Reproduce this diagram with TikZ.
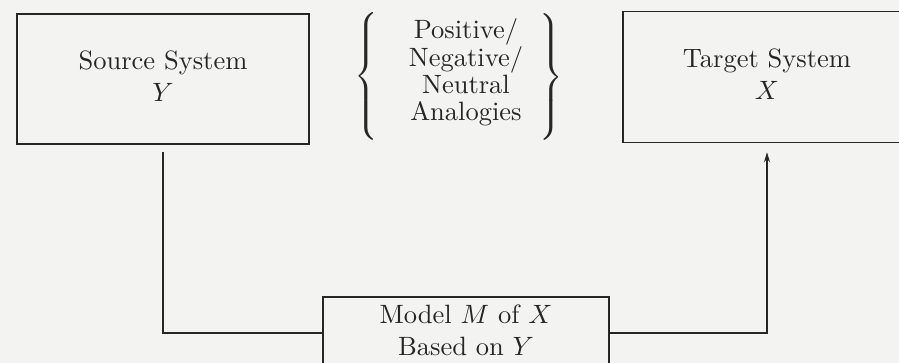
\documentclass[tikz,border=0pt]{standalone}
\usetikzlibrary{arrows.meta}
\usepackage{graphicx}
\definecolor{bg}{HTML}{F3F3F1}
\definecolor{ink}{HTML}{262626}
\newcommand{\bigtext}[2][1]{\scalebox{2.65}{\renewcommand{\arraystretch}{#1}\begin{tabular}{@{}c@{}}#2\end{tabular}}}
\tikzset{
  sysbox/.style={draw=ink, line width=1.5pt, text=ink, align=center, inner sep=0pt},
  conn/.style={draw=ink, line width=1.4pt},
  bracetext/.style={text=ink, align=center, inner sep=0pt},
  bracenode/.style={text=ink, inner sep=0pt}
}
\begin{document}
\begin{tikzpicture}[x=1pt,y=-1pt]
\fill[bg] (0,0) rectangle (899,363);
\useasboundingbox (0,0) rectangle (899,363);
\node[sysbox, minimum width=292pt, minimum height=130pt] (src) at (163,79) {\bigtext{Source System\\$Y$}};
\node[sysbox, minimum width=288pt, minimum height=131pt] (tgt) at (767,77) {\bigtext{Target System\\$X$}};
\node[sysbox, minimum width=286pt, minimum height=72pt] (model) at (466,333) {\bigtext{Model $M$ of $X$\\Based on $Y$}};
\node[bracetext] (ana) at (466,73.5) {\bigtext[0.85]{Positive/\\Negative/\\Neutral\\Analogies}};
\node[bracenode] (lb) at (368,77) {\scalebox{2.65}{$\left\{\vrule height 22pt depth 22pt width 0pt\right.$}};
\node[bracenode] (rb) at (550,77) {\scalebox{2.65}{$\left.\vrule height 21.5pt depth 21.5pt width 0pt\right\}$}};
\coordinate (lc) at (src.south |- model.west);
\coordinate (rc) at (tgt.south |- model.east);
\draw[conn, shorten <=7pt] (src.south) -- (lc) -- (model.west);
\draw[conn, shorten >=9pt, -{Stealth[length=10pt,width=6pt]}] (model.east) -- (rc) -- (tgt.south);
\end{tikzpicture}
\end{document}
